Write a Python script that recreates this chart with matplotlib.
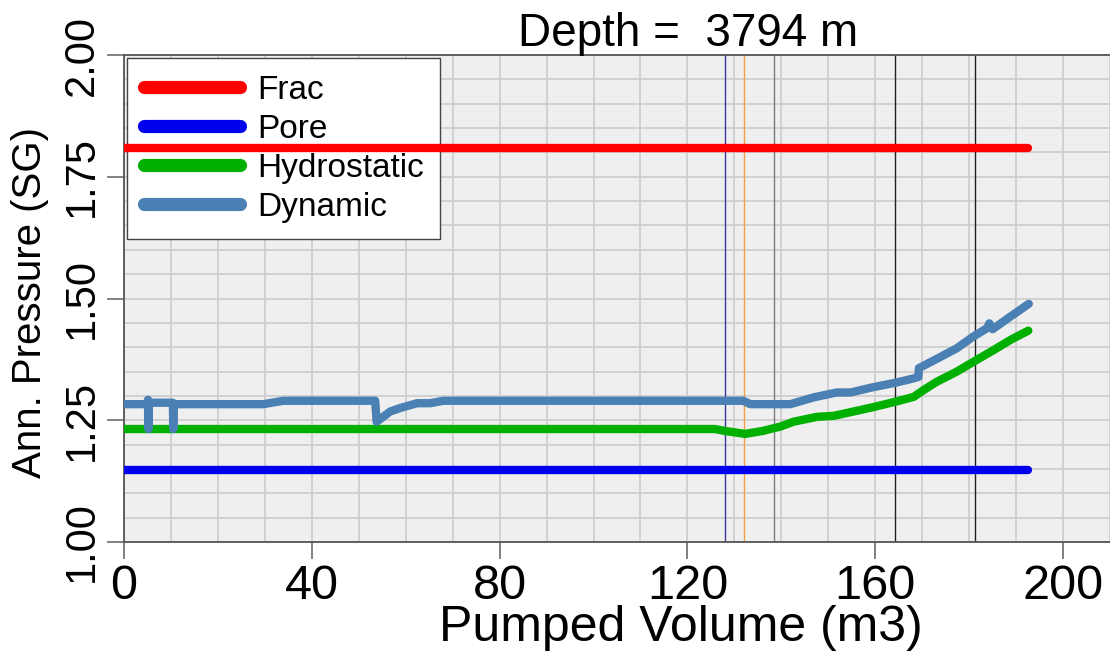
import matplotlib.pyplot as plt
from matplotlib.lines import Line2D

plt.rcParams['font.family'] = ['Liberation Sans', 'DejaVu Sans']

# annulus pressure gradients (SG) vs pumped volume (m3)
frac_x = [0, 192.5]
frac_y = [1.81, 1.81]

pore_x = [0, 192.5]
pore_y = [1.148, 1.148]

hydro_x = [0, 125.9, 128.0, 132.3, 136.0, 139.8, 142.6, 147.6, 151.1, 155.4,
           159.6, 164.3, 168.2, 170.3, 173.1, 177.4, 180.9, 185.2, 188.8, 192.6]
hydro_y = [1.232, 1.232, 1.228, 1.222, 1.228, 1.237, 1.247, 1.257, 1.259, 1.268,
           1.277, 1.288, 1.298, 1.312, 1.329, 1.350, 1.370, 1.394, 1.415, 1.434]

dyn_x = [0, 5.0, 5.1, 5.2, 5.3, 10.4, 10.5, 10.6, 29.7, 33.9,
         53.5, 53.8, 56.7, 58.8, 62.4, 65.2, 68.0, 131.9, 133.4, 141.9,
         146.9, 151.8, 154.7, 159.6, 164.3, 168.2, 169.2, 169.3, 173.1, 177.4,
         180.9, 183.8, 184.3, 185.0, 188.8, 192.7]
dyn_y = [1.283, 1.283, 1.292, 1.232, 1.286, 1.286, 1.232, 1.283, 1.283, 1.290,
         1.290, 1.247, 1.268, 1.275, 1.285, 1.285, 1.290, 1.290, 1.283, 1.283,
         1.297, 1.307, 1.307, 1.318, 1.327, 1.336, 1.339, 1.357, 1.376, 1.398,
         1.422, 1.439, 1.449, 1.437, 1.463, 1.489]

# event markers along the pumping schedule
event_x = [127.9, 132.1, 138.5, 164.3, 181.3]
event_colors = ['#3a3a9c', '#f0a040', '#7a7a7a', '#202020', '#202020']

depth = 3794

fig = plt.figure(figsize=(11.1, 6.51), dpi=100)
ax = fig.add_axes([124 / 1110, 1 - 542 / 651, 1 - 124 / 1110, 487 / 651])
ax.set_facecolor('#efefef')

ax.set_xlim(0, 210)
ax.set_ylim(1.0, 2.0)
ax.set_xticks([0, 40, 80, 120, 160, 200])
ax.set_yticks([1.0, 1.25, 1.5, 1.75, 2.0])
ax.set_yticklabels(['1.00', '1.25', '1.50', '1.75', '2.00'])
ax.set_xticks(range(0, 211, 10), minor=True)
ax.set_yticks([1 + 0.05 * i for i in range(21)], minor=True)
ax.grid(which='both', color='#cccccc', linewidth=1.2)
ax.set_axisbelow(True)
ax.tick_params(which='minor', length=0)
ax.tick_params(which='major', length=12, width=1.3, color='#777777', labelsize=35, pad=4)
ax.tick_params(axis='y', labelrotation=90, labelsize=30)
for lab in ax.get_yticklabels():
    lab.set_va('center')

for s in ['left', 'bottom', 'top']:
    ax.spines[s].set_color('#555555')
    ax.spines[s].set_linewidth(1.3)
ax.spines['right'].set_visible(False)

for x, c in zip(event_x, event_colors):
    ax.axvline(x, color=c, linewidth=1.0, zorder=2)

lw = 6
ax.plot(frac_x, frac_y, color='#ff0000', lw=lw, solid_capstyle='round', zorder=3)
ax.plot(pore_x, pore_y, color='#0000f0', lw=lw, solid_capstyle='round', zorder=3)
ax.plot(hydro_x, hydro_y, color='#00b000', lw=lw, solid_capstyle='round',
        solid_joinstyle='round', zorder=3)
ax.plot(dyn_x, dyn_y, color='#4a80b4', lw=lw, solid_capstyle='round',
        solid_joinstyle='round', zorder=3)

handles = [Line2D([], [], color=c, lw=9.5, solid_capstyle='round')
           for c in ['#ff0000', '#0000f0', '#00b000', '#4a80b4']]
leg = ax.legend(handles, ['Frac', 'Pore', 'Hydrostatic', 'Dynamic'],
                loc='upper left', bbox_to_anchor=(0.003, 0.994), fontsize=24,
                handlelength=2.9, handletextpad=0.5, labelspacing=0.24,
                borderpad=0.5, borderaxespad=0, fancybox=False, framealpha=1,
                edgecolor='#444444')
leg.get_frame().set_linewidth(1.0)
leg.set_zorder(1)

ax.set_xlabel('Pumped Volume (m3)', fontsize=36, va='center')
ax.xaxis.set_label_coords(0.565, -0.177)
ax.set_ylabel('Ann. Pressure (SG)', fontsize=29, va='center')
ax.yaxis.set_label_coords(-0.0953, 0.491)

fig.text(688 / 1110, 1 - 34 / 651, f'Depth =  {depth} m', fontsize=33,
         ha='center', va='center')

fig.savefig('out.png', dpi=100)
